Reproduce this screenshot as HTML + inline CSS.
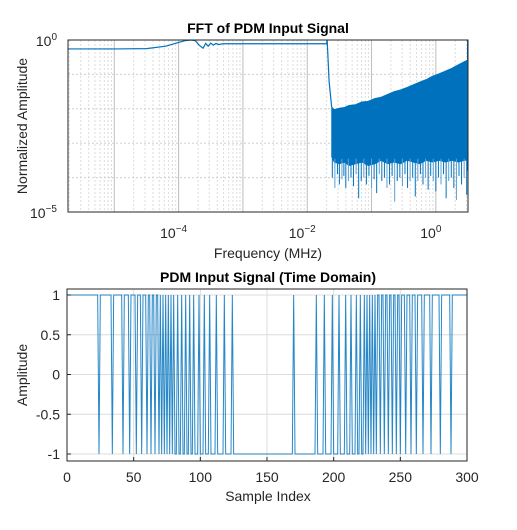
<!DOCTYPE html>
<html><head><meta charset="utf-8"><style>
body{margin:0;background:#fff;width:517px;height:525px;overflow:hidden}
text{font-family:"Liberation Sans",Arial,sans-serif}
</style></head><body>
<svg id="fig" width="517" height="525" xmlns="http://www.w3.org/2000/svg">
<rect width="517" height="525" fill="#fff"/>
<g id="topPlot"></g>
<g id="botPlot"></g>
</svg>
<script>
// ---------- FFT chart data ----------
const fftFlatFreqLog = [-5.72,-5.0,-4.5,-4.2,-4.0,-3.9,-3.81,-3.74,-3.68,-3.62,-3.58,-3.54,-3.5,-3.46,-3.42,-3.38,-3.3,-3.0,-2.5,-2.0,-1.7,-1.69,-1.66,-1.62];
const fftFlatAmpLog  = [-0.26,-0.26,-0.25,-0.18,-0.07,-0.02,0.0,-0.02,-0.15,-0.24,-0.1,-0.18,-0.09,-0.15,-0.1,-0.13,-0.11,-0.11,-0.11,-0.11,-0.11,0.0,-1.2,-1.95];
const noiseFreqLog  = [-1.62,-1.58,-1.5,-1.42,-1.35,-1.25,-1.15,-1.05,-0.95,-0.85,-0.75,-0.65,-0.55,-0.45,-0.35,-0.25,-0.15,-0.05,0.05,0.15,0.25,0.35,0.45,0.5];
const noiseUpperLog = [-1.95,-2.02,-1.98,-1.96,-1.9,-1.88,-1.8,-1.78,-1.7,-1.66,-1.58,-1.5,-1.45,-1.38,-1.3,-1.22,-1.15,-1.05,-0.98,-0.9,-0.82,-0.72,-0.62,-0.58];
const noiseLowerLog = [-3.4,-3.55,-3.6,-3.55,-3.65,-3.6,-3.55,-3.65,-3.6,-3.5,-3.6,-3.55,-3.6,-3.5,-3.55,-3.6,-3.5,-3.55,-3.5,-3.55,-3.5,-3.55,-3.5,-3.5];
const spikeFreqLog = [-1.61,-1.57,-1.53,-1.5,-1.46,-1.43,-1.4,-1.36,-1.32,-1.28,-1.24,-1.2,-1.16,-1.12,-1.08,-1.04,-1.0,-0.96,-0.92,-0.88,-0.84,-0.8,-0.76,-0.72,-0.68,-0.64,-0.6,-0.56,-0.52,-0.48,-0.44,-0.4,-0.36,-0.32,-0.28,-0.24,-0.2,-0.16,-0.12,-0.08,-0.04,0.0,0.04,0.08,0.12,0.16,0.2,0.24,0.28,0.32,0.36,0.4,0.44,0.48];
const spikeAmpLog  = [-4.0,-4.3,-3.9,-4.2,-4.05,-3.95,-4.3,-4.1,-4.0,-4.25,-3.9,-4.6,-4.1,-4.0,-4.2,-3.95,-4.3,-4.05,-4.45,-3.9,-4.1,-4.0,-4.3,-4.2,-3.95,-4.7,-4.1,-4.0,-4.25,-3.9,-4.3,-4.1,-4.0,-4.55,-4.1,-3.9,-4.2,-4.0,-4.35,-3.95,-4.1,-4.4,-4.0,-4.2,-3.9,-4.6,-4.1,-4.0,-4.3,-4.65,-3.95,-4.2,-4.0,-4.5];
const fftXTicks = [-4,-2,0];
const fftYTicks = [0,-5];
// ---------- Time domain data ----------
const lowIntervals = [[24,24],[34,34],[42,42],[47,47],[52,52],[56,56],[60,60],[63,63],[66,66],[69,69],[71,71],[73,73],[75,75],[77,77],[79,79],[81,82],[84,85],[87,88],[90,91],[93,94],[96,98],[100,102],[104,106],[108,111],[113,117],[119,123],[125,169],[171,186],[188,192],[194,198],[200,203],[205,208],[210,212],[214,216],[218,219],[221,222],[224,224],[226,226],[228,228],[230,230],[232,232],[235,235],[238,238],[241,241],[244,244],[247,247],[250,250],[254,254],[258,258],[262,262],[267,267],[273,273],[280,280],[288,288]];
const nSamples = 301;
const tdXTicks = [0,50,100,150,200,250,300];
const tdYTicks = [1,0.5,0,-0.5,-1];

const NS="http://www.w3.org/2000/svg";
function mk(parent,tag,attrs,txt){const e=document.createElementNS(NS,tag);for(const k in attrs)e.setAttribute(k,attrs[k]);if(txt!==undefined)e.textContent=txt;parent.appendChild(e);return e;}
const blue="#0072BD";

// ---- top axes ----
const topG=document.getElementById('topPlot');
const T={x0:68,x1:468,y0:40,y1:212,fmin:-5.72,fmax:0.5,amin:-5,amax:0};
const fx=v=>T.x0+(v-T.fmin)/(T.fmax-T.fmin)*(T.x1-T.x0);
const fy=v=>T.y0+(T.amax-v)/(T.amax-T.amin)*(T.y1-T.y0);
for(let d=-6;d<=0;d++){for(let m=1;m<10;m++){const lv=d+Math.log10(m);if(lv<T.fmin||lv>T.fmax)continue;const x=fx(lv);
 const g=mk(topG,'line',{x1:x,x2:x,y1:T.y0,y2:T.y1,stroke:m==1?'#bdbdbd':'#dcdcdc','stroke-dasharray':m==1?'none':'2,2','stroke-width':1});
 
 }}
for(let d=-5;d<0;d++){const y=fy(d);const g=mk(topG,'line',{x1:T.x0,x2:T.x1,y1:y,y2:y,stroke:'#d0d0d0','stroke-dasharray':'2,2'});
 
 }
let band="";
noiseFreqLog.forEach((f,i)=>{band+=(i?"L":"M")+fx(f)+","+fy(noiseUpperLog[i]);});
for(let i=noiseFreqLog.length-1;i>=0;i--)band+="L"+fx(noiseFreqLog[i])+","+fy(noiseLowerLog[i]);
const bp=mk(topG,'path',{d:band+"Z",fill:blue,stroke:blue,'stroke-width':0.8});


spikeFreqLog.forEach((f,i)=>{const l=mk(topG,'line',{x1:fx(f),x2:fx(f),y1:fy(-3.45),y2:fy(spikeAmpLog[i]),stroke:i%3==1?'#5a9fd4':blue,'stroke-width':1});
 
 });
let fp="";fftFlatFreqLog.forEach((f,i)=>{fp+=(i?"L":"M")+fx(f)+","+fy(fftFlatAmpLog[i]);});
const fl=mk(topG,'path',{d:fp,fill:'none',stroke:blue,'stroke-width':1.2});


const edgeL=mk(topG,'line',{x1:T.x1-0.5,x2:T.x1-0.5,y1:fy(0),y2:fy(-3.8),stroke:blue,'stroke-width':1});


const tb=mk(topG,'rect',{x:T.x0,y:T.y0,width:T.x1-T.x0,height:T.y1-T.y0,fill:'none',stroke:'#262626','stroke-width':1});


fftXTicks.forEach(t=>{const x=fx(t);const tx=mk(topG,'text',{x:x-5,y:238,'font-size':14,fill:'#262626','text-anchor':'middle'},'10');
 mk(tx,'tspan',{dy:-6,'font-size':10},String(t).replace('-','−'));
 
 });
fftYTicks.forEach(t=>{const y=fy(t);const tx=mk(topG,'text',{x:57,y:y+6,'font-size':14,fill:'#262626','text-anchor':'end'},'10');
 mk(tx,'tspan',{dy:-6,'font-size':10},String(t).replace('-','−'));
 
 });
let t1=mk(topG,'text',{x:268,y:33,'font-size':14,'font-weight':'bold','text-anchor':'middle',fill:'#000'},'FFT of PDM Input Signal');


let t2=mk(topG,'text',{x:268,y:258,'font-size':14,'text-anchor':'middle',fill:'#262626'},'Frequency (MHz)');


let t3=mk(topG,'text',{x:27,y:126,'font-size':14,'text-anchor':'middle',fill:'#262626',transform:'rotate(-90 27 126)'},'Normalized Amplitude');



// ---- bottom axes ----
const botG=document.getElementById('botPlot');
const B={x0:67,x1:467,y0:289,y1:461,ytop:295,ybot:454};
const bx=v=>B.x0+v/300*(B.x1-B.x0);
const by=v=>B.ybot-(v+1)/2*(B.ybot-B.ytop);
tdXTicks.forEach(t=>{const g=mk(botG,'line',{x1:bx(t),x2:bx(t),y1:B.y0,y2:B.y1,stroke:'#dcdcdc'});
 
 });
tdYTicks.forEach(t=>{const g=mk(botG,'line',{x1:B.x0,x2:B.x1,y1:by(t),y2:by(t),stroke:'#dcdcdc'});
 
 });
const sig=new Array(nSamples).fill(1);
lowIntervals.forEach(([a,b])=>{for(let i=a;i<=b;i++)sig[i]=-1;});
let sp="";sig.forEach((v,i)=>{sp+=(i?"L":"M")+bx(i).toFixed(2)+","+by(v).toFixed(2);});
const sl=mk(botG,'path',{d:sp,fill:'none',stroke:blue,'stroke-width':1,'stroke-opacity':0.85});


const bb=mk(botG,'rect',{x:B.x0,y:B.y0,width:B.x1-B.x0,height:B.y1-B.y0,fill:'none',stroke:'#262626'});


tdXTicks.forEach(t=>{mk(botG,'line',{x1:bx(t),x2:bx(t),y1:B.y1,y2:B.y1-4,stroke:'#262626'});
 const tx=mk(botG,'text',{x:bx(t),y:482,'font-size':14,'text-anchor':'middle',fill:'#262626'},String(t));
 
 });
tdYTicks.forEach(t=>{mk(botG,'line',{x1:B.x0,x2:B.x0+4,y1:by(t),y2:by(t),stroke:'#262626'});
 const tx=mk(botG,'text',{x:60,y:by(t)+5,'font-size':14,'text-anchor':'end',fill:'#262626'},String(t));
 
 });
let b1=mk(botG,'text',{x:268,y:282,'font-size':14,'font-weight':'bold','text-anchor':'middle',fill:'#000'},'PDM Input Signal (Time Domain)');


let b2=mk(botG,'text',{x:268,y:501,'font-size':14,'text-anchor':'middle',fill:'#262626'},'Sample Index');


let b3=mk(botG,'text',{x:27,y:375,'font-size':14,'text-anchor':'middle',fill:'#262626',transform:'rotate(-90 27 375)'},'Amplitude');


</script>
</body></html>
